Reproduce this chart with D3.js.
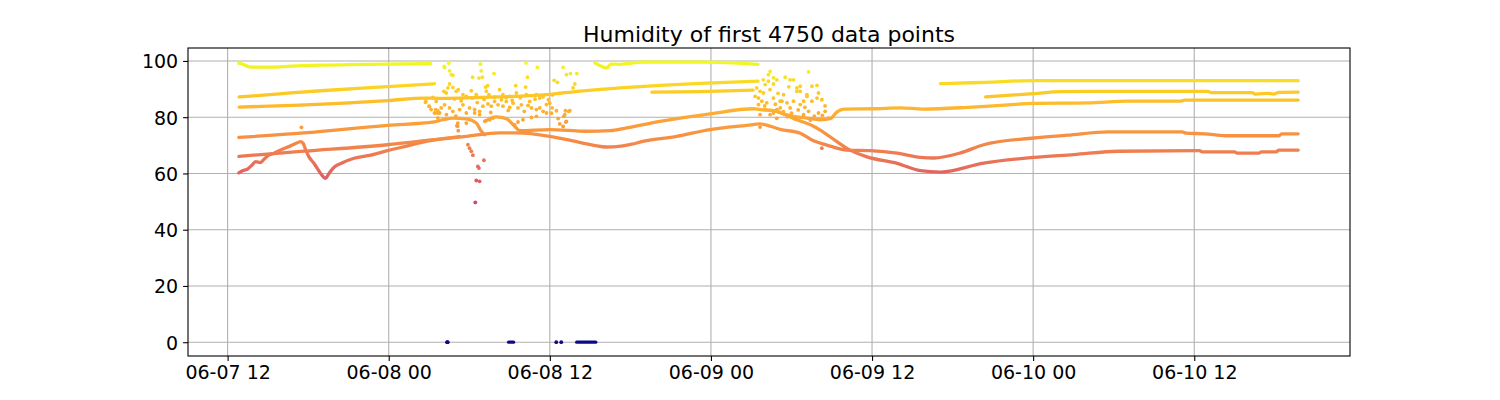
<!DOCTYPE html>
<html><head><meta charset="utf-8">
<script src="https://cdn.jsdelivr.net/npm/d3@7"></script>
<style>body{margin:0;background:#fff} svg{display:block} text{font-family:"DejaVu Sans",sans-serif;fill:#000}</style>
</head><body><svg id="c" width="1500" height="400"></svg>
<script>
const chartTitle = "Humidity of first 4750 data points";
const startTime = new Date(2023, 5, 7, 12, 0, 0);   // 06-07 12:00, hours below are offsets from it
const xTickHours = [0, 12, 24, 36, 48, 60, 72];
const yTicks = [0, 20, 40, 60, 80, 100];
const xDomainHours = [-2.95, 83.6];
const yDomain = [-4.9, 104.6];
const colorMax = 99.6;

// dense sensor traces: [hours since start, humidity]
const topYellowA = [[0.84,99.2],[1.2,98.7],[1.6,97.9],[1.97,97.8],[3.7,97.8],[4.44,98.1],[6.93,98.5],[11.9,98.9],[15.13,99.0]];
const topYellowB = [[27.35,99.3],[27.95,97.9],[28.25,97.5],[28.54,98.9],[29.22,98.8],[30.93,99.6],[35.93,99.6],[37.65,99.3],[39.51,98.8]];
const yellowA = [[0.86,87.2],[3.84,88.3],[6.9,89.4],[11.9,90.9],[15.41,91.9]];
const yellowB = [[0.86,83.6],[5.34,84.3],[11.9,85.9],[14.66,86.8],[15.78,86.7],[20.26,87.2],[23.77,88.0],[26.23,89.3],[29.22,90.4],[32.2,91.3],[35.19,92.0],[39.51,92.8]];
const yellowC = [[31.6,88.9],[35.19,89.1],[39.14,89.6]];
const rightYellowA = [[53.1,91.9],[54.4,92.1],[56.46,92.4],[60.04,93.0],[79.74,93.0]];
const rightYellowB = [[56.46,87.2],[60.04,88.4],[62.05,89.1],[65.04,89.2],[73.03,89.2],[73.25,88.7],[76.3,88.7],[76.6,88.2],[77.5,88.5],[77.9,88.2],[78.3,88.8],[79.74,88.9]];
const orangeHump = [[0.84,72.8],[5.69,74.4],[11.9,77.1],[15.39,78.3],[16.03,79.1],[16.78,79.7],[17.78,79.4],[18.52,77.9],[18.9,75.0],[19.14,73.8]];
const orangeUpper = [[19.14,78.5],[20.01,80.1],[20.76,79.5],[21.38,76.8],[21.75,75.2],[23.99,75.6],[26.73,75.0],[28.47,75.2],[29.72,76.2],[32.2,78.5],[35.93,81.2],[39.16,83.0],[39.66,82.7],[40.66,82.3],[41.9,80.5],[43.15,79.7],[44.14,79.1],[44.89,79.5],[45.39,81.9],[45.88,82.9],[48.12,83.0],[50.11,83.3],[51.83,82.9],[55.11,83.5],[57.57,84.2],[60.04,84.9],[64.07,85.1],[67.05,85.7],[71.0,85.7],[71.3,86.1],[79.74,86.1]];
const orangeLower = [[0.84,66.1],[5.69,67.9],[11.9,70.2],[15.39,72.0],[17.78,73.2],[20.26,74.4],[21.51,74.4],[23.99,73.2],[25.3,72.0],[26.46,70.8],[27.3,70.0],[28.22,69.4],[29.3,69.7],[30.1,70.4],[30.93,71.4],[33.45,73.2],[35.93,75.6],[38.67,77.1],[39.66,77.6],[40.41,76.8],[41.16,75.7],[42.65,74.3],[43.64,71.6],[44.64,70.1],[46.13,68.3],[47.87,68.1],[49.87,67.2],[51.6,65.7],[52.6,65.5],[54.59,67.3],[56.31,70.2],[60.04,72.6],[62.57,73.6],[65.56,74.8],[71.1,74.8],[71.4,74.3],[72.8,74.1],[74.3,73.4],[78.3,73.4],[78.5,74.1],[79.74,74.1]];
const orangeBranch = [[40.91,82.2],[42.4,79.1],[43.64,76.8],[44.14,75.4],[45.39,71.3],[46.13,68.9],[47.63,65.9],[49.87,63.6],[51.6,61.0],[53.1,60.5],[56.31,63.7],[60.04,65.7],[63.03,66.7],[66.31,67.9],[72.4,68.1],[72.6,67.7],[75.0,67.7],[75.2,67.2],[76.8,67.2],[77.0,67.7],[78.1,67.7],[78.3,68.3],[79.74,68.3]];
const redTrace = [[0.84,60.2],[1.08,60.9],[1.46,61.5],[1.83,63.0],[2.08,64.2],[2.45,63.9],[2.7,65.0],[3.07,66.5],[3.45,67.2],[4.07,68.6],[4.69,69.8],[5.19,70.9],[5.43,71.3],[5.63,70.7],[5.76,69.1],[6.06,65.9],[6.43,63.6],[6.93,60.0],[7.3,58.3],[7.55,60.0],[7.93,62.2],[8.55,63.8],[9.42,65.4],[10.66,66.5],[11.9,68.1],[13.4,69.8],[14.89,71.5],[17.28,73.1]];
const zeroRunA = [[20.93,0],[21.3,0]];
const zeroRunB = [[26.0,0],[27.42,0]];

// scattered single readings: [hours since start, humidity]
const scatterMorning = [[16.48,99.3],[16.16,97.7],[18.84,98.9],[18.89,96.5],[18.72,93.9],[18.97,94.2],[18.25,94.2],[19.84,95.5],[22.23,99.3],[22.33,94.2],[23.07,97.7],[24.32,93.1],[24.57,92.4],[24.99,97.7],[25.24,95.1],[25.54,95.5],[26.01,95.5],[16.53,96.5],[16.66,95.1],[16.78,94.9],[16.53,91.8],[16.41,90.4],[16.78,90.6],[16.11,89.2],[16.28,88.6],[17.03,89.2],[17.18,89.8],[17.53,88.0],[17.78,87.4],[18.15,89.4],[18.22,86.8],[18.52,88.0],[19.27,89.2],[19.47,88.0],[19.22,90.7],[19.37,91.2],[20.26,89.8],[20.51,88.0],[20.76,87.0],[21.01,87.4],[21.46,91.2],[21.51,88.6],[22.25,88.0],[22.2,90.7],[23.0,88.0],[23.25,86.8],[23.75,84.5],[23.99,85.0],[24.17,83.3],[15.29,87.0],[15.54,85.6],[14.74,85.3],[15.04,83.8],[15.16,82.7],[15.41,81.5],[15.66,82.3],[15.91,83.3],[16.16,84.4],[16.53,83.3],[16.78,82.1],[17.28,82.7],[17.53,84.4],[17.78,81.5],[18.02,83.3],[18.4,82.7],[18.77,82.1],[19.02,83.9],[19.39,84.7],[19.64,83.9],[19.89,85.6],[20.14,84.4],[20.51,83.9],[20.76,85.6],[21.01,83.5],[21.26,85.0],[21.63,83.3],[21.88,84.4],[22.38,84.2],[22.63,83.3],[23.0,82.7],[23.25,83.3],[23.5,82.1],[23.75,81.5],[24.12,81.4],[24.49,82.3],[25.16,82.3],[25.49,82.3],[25.11,80.9],[24.62,79.5],[24.74,77.6],[25.19,78.3],[24.99,76.7],[22.63,79.9],[23.0,80.3],[22.0,79.1],[21.63,78.3],[21.38,77.3],[19.77,79.7],[19.52,79.1],[19.22,78.7],[18.77,80.9],[18.4,81.5],[17.78,77.9],[17.15,77.9],[17.08,77.0],[17.18,75.2],[15.66,79.7],[15.79,81.5],[16.13,98.1],[16.46,99.3],[18.82,98.9],[14.76,85.6],[15.0,83.9],[15.5,82.7],[15.63,81.5],[25.86,91.8],[25.73,90.4],[25.41,82.1],[25.04,80.3],[25.24,78.5],[17.13,76.8],[16.9,86.5],[17.4,85.8],[18.6,85.2],[19.1,86.3],[19.9,87.1],[20.4,86.2],[21.2,86.0],[21.8,86.9],[22.5,85.6],[22.9,86.4],[23.5,87.2],[24.2,87.9],[24.7,88.5],[20.9,82.4],[19.6,81.7],[17.0,80.4],[16.3,80.9],[22.1,82.1],[23.9,86.2]];
const scatterNextDay = [[40.41,96.3],[40.28,95.1],[40.66,94.0],[40.91,93.3],[40.28,92.8],[41.53,94.2],[41.9,93.3],[43.27,96.1],[42.65,91.0],[42.4,89.2],[39.66,89.2],[39.91,88.6],[39.54,86.8],[39.79,85.7],[40.16,85.1],[40.66,86.8],[41.16,85.7],[41.66,85.1],[42.15,85.7],[41.9,83.3],[41.16,83.3],[42.65,84.5],[43.15,88.0],[43.52,85.7],[43.9,86.8],[43.27,82.1],[42.9,80.9],[40.66,81.5],[39.66,80.9],[40.04,82.7],[39.29,87.4],[39.41,90.4],[42.15,93.3],[40.66,91.8],[40.04,91.6],[41.41,88.0],[41.29,85.7],[42.4,90.4],[42.65,89.2],[43.15,87.4],[43.52,91.0],[43.9,91.3],[44.01,88.6],[44.26,86.2],[44.51,82.1],[44.01,81.5],[44.76,79.7],[42.9,85.7],[40.91,82.7],[40.41,80.9],[39.54,84.5],[39.66,76.5],[44.26,69.0],[40.0,84.0],[40.8,84.6],[41.4,82.0],[42.0,81.4],[42.5,82.6],[43.0,83.5],[43.7,80.4],[44.3,80.6],[41.7,80.2],[40.9,79.6],[42.3,79.3],[43.4,79.0],[44.5,84.0],[41.0,88.5],[40.4,89.8],[39.9,93.3],[41.8,90.8]];
const scatterDrop = [[5.5,76.4],[17.9,70.2],[18.02,69.0],[18.15,67.9],[18.27,66.5],[18.64,62.5],[18.72,61.9],[19.09,64.7],[18.52,57.5],[18.77,57.2],[18.45,49.7]];
const zeroPoints = [[16.34,0],[16.4,0],[24.48,0],[24.85,0]];

const traces = [topYellowA, topYellowB, yellowA, yellowB, yellowC, rightYellowA, rightYellowB,
  orangeHump, orangeUpper, orangeLower, orangeBranch, redTrace, zeroRunA, zeroRunB];
const points = [].concat(scatterMorning, scatterNextDay, scatterDrop, zeroPoints);

const m = {left: 188, right: 1350, top: 48, bottom: 356};
const toDate = h => new Date(startTime.getTime() + h * 3600e3);
const x = d3.scaleTime().domain(xDomainHours.map(toDate)).range([m.left, m.right]);
const y = d3.scaleLinear().domain(yDomain).range([m.bottom, m.top]);
const color = d3.scaleSequential(d3.interpolatePlasma).domain([0, colorMax]);
const svg = d3.select("#c");

// vertical plasma gradient: a trace's colour follows its humidity value
const defs = svg.append("defs");
const grad = defs.append("linearGradient").attr("id", "plasmaV")
  .attr("gradientUnits", "userSpaceOnUse")
  .attr("x1", 0).attr("x2", 0).attr("y1", y(0)).attr("y2", y(colorMax));
d3.range(0, 1.0001, 0.02).forEach(t => grad.append("stop").attr("offset", t).attr("stop-color", color(t * colorMax)));
defs.append("clipPath").attr("id", "clip").append("rect")
  .attr("x", m.left).attr("y", m.top).attr("width", m.right - m.left).attr("height", m.bottom - m.top);

// grid
const grid = svg.append("g").attr("stroke", "#b0b0b0").attr("stroke-width", 1.1);
xTickHours.forEach(h => grid.append("line").attr("x1", x(toDate(h))).attr("x2", x(toDate(h))).attr("y1", m.top).attr("y2", m.bottom));
yTicks.forEach(v => grid.append("line").attr("x1", m.left).attr("x2", m.right).attr("y1", y(v)).attr("y2", y(v)));

const plot = svg.append("g").attr("clip-path", "url(#clip)");
const line = d3.line().x(d => x(toDate(d[0]))).y(d => y(d[1])).curve(d3.curveMonotoneX);
plot.append("g").selectAll("path").data(traces).join("path")
  .attr("d", line).attr("fill", "none").attr("stroke", "url(#plasmaV)")
  .attr("stroke-width", 3.3).attr("stroke-linecap", "round").attr("stroke-linejoin", "round");
plot.append("g").selectAll("circle").data(points).join("circle")
  .attr("cx", d => x(toDate(d[0]))).attr("cy", d => y(d[1]))
  .attr("r", 1.9).attr("fill", d => color(d[1]));

// axes
const fmt = d3.timeFormat("%m-%d %H");
const xAxis = d3.axisBottom(x).tickValues(xTickHours.map(toDate)).tickFormat(fmt).tickSize(4.9).tickPadding(4.5);
const yAxis = d3.axisLeft(y).tickValues(yTicks).tickSize(4.9).tickPadding(4.9);
const gx = svg.append("g").attr("transform", `translate(0,${m.bottom})`).call(xAxis);
const gy = svg.append("g").attr("transform", `translate(${m.left},0)`).call(yAxis);
[gx, gy].forEach(g => {
  g.select(".domain").remove();
  g.selectAll(".tick line").attr("stroke", "#000").attr("stroke-width", 1.1);
  g.selectAll(".tick text").attr("font-size", 19).attr("font-family", "DejaVu Sans").attr("fill", "#000");
});
gy.selectAll(".tick text").attr("dy", "0.37em");
gx.selectAll(".tick text").attr("dy", "0.71em");

// frame
svg.append("rect").attr("x", m.left).attr("y", m.top).attr("width", m.right - m.left).attr("height", m.bottom - m.top)
  .attr("fill", "none").attr("stroke", "#000").attr("stroke-width", 1.1);

svg.append("text").attr("x", (m.left + m.right) / 2).attr("y", 42).attr("text-anchor", "middle")
  .attr("font-size", 22).text(chartTitle);
</script></body></html>
